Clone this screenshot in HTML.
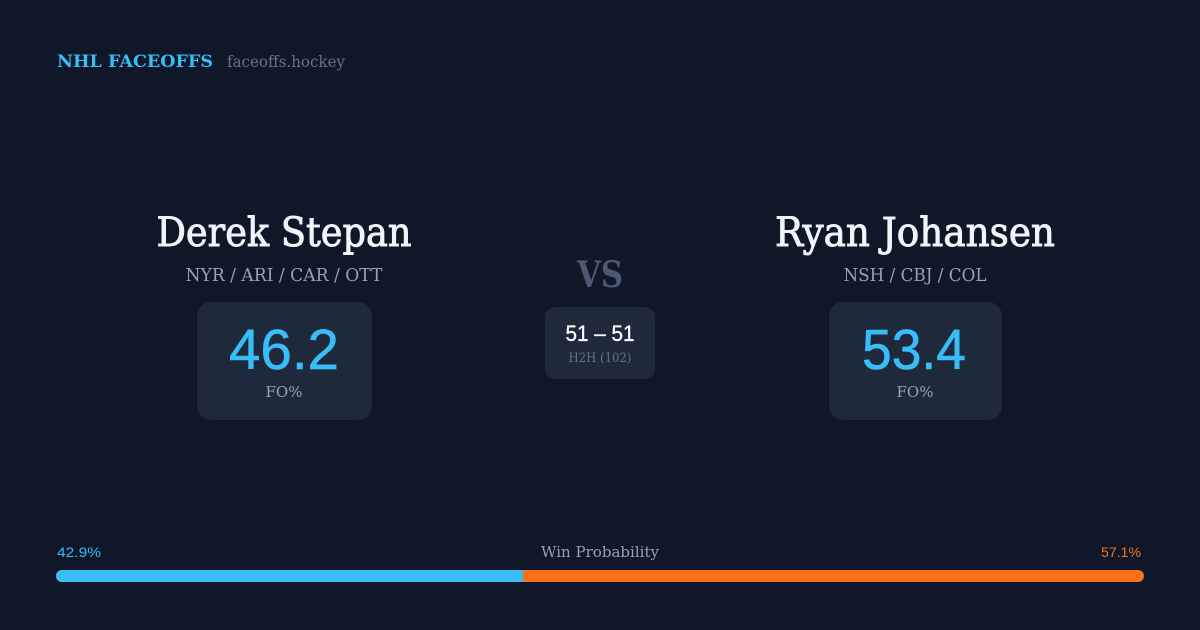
<!DOCTYPE html>
<html><head><meta charset="utf-8"><style>
html,body{margin:0;padding:0;background:#0f1729;}
svg{display:block}
</style></head><body>
<svg width="1200" height="630" viewBox="0 0 1200 630" xmlns="http://www.w3.org/2000/svg">
<rect width="1200" height="630" fill="#0f1729"/>
<g font-family="'DejaVu Serif','Liberation Serif',serif">
<text x="57" y="67" font-size="17" font-weight="bold" fill="#38bdf8" font-family="DejaVu Serif" textLength="156" lengthAdjust="spacingAndGlyphs">NHL FACEOFFS</text>
<text x="227" y="67" font-size="16" fill="#64748b" textLength="118" lengthAdjust="spacingAndGlyphs">faceoffs.hockey</text>

<text x="284" y="246" font-size="40" fill="#f1f5f9" stroke="#f1f5f9" stroke-width="0.9" text-anchor="middle" textLength="255" lengthAdjust="spacingAndGlyphs">Derek Stepan</text>
<text x="284" y="281" font-size="18" fill="#94a3b8" text-anchor="middle" textLength="197" lengthAdjust="spacingAndGlyphs">NYR / ARI / CAR / OTT</text>

<text x="915" y="246" font-size="40" fill="#f1f5f9" stroke="#f1f5f9" stroke-width="0.9" text-anchor="middle" textLength="280" lengthAdjust="spacingAndGlyphs">Ryan Johansen</text>
<text x="915" y="281" font-size="18" fill="#94a3b8" text-anchor="middle" textLength="143" lengthAdjust="spacingAndGlyphs">NSH / CBJ / COL</text>

<text x="600" y="287" font-size="36" font-weight="bold" fill="#4b5a72" font-family="DejaVu Serif" text-anchor="middle" textLength="46" lengthAdjust="spacingAndGlyphs">VS</text>

<rect x="197" y="302" width="175" height="118" rx="14" fill="#1e293b"/>
<rect x="829" y="302" width="173" height="118" rx="14" fill="#1e293b"/>
<rect x="545" y="307" width="110" height="72" rx="10" fill="#1e293b"/>

<text x="284" y="397" font-size="15" fill="#94a3b8" text-anchor="middle">FO%</text>
<text x="915" y="397" font-size="15" fill="#94a3b8" text-anchor="middle">FO%</text>
<text x="600" y="362" font-size="13" fill="#64748b" text-anchor="middle" textLength="63" lengthAdjust="spacingAndGlyphs">H2H (102)</text>
<text x="600" y="557" font-size="15" fill="#94a3b8" text-anchor="middle" textLength="118" lengthAdjust="spacingAndGlyphs">Win Probability</text>
</g>
<g font-family="'Liberation Sans',Arial,sans-serif">
<text x="284" y="369" font-size="57" fill="#38bdf8" stroke="#38bdf8" stroke-width="0.6" text-anchor="middle" textLength="110" lengthAdjust="spacingAndGlyphs">46.2</text>
<text x="914" y="369" font-size="57" fill="#38bdf8" stroke="#38bdf8" stroke-width="0.6" text-anchor="middle" textLength="104" lengthAdjust="spacingAndGlyphs">53.4</text>
<text x="600" y="341" font-size="22" fill="#ffffff" stroke="#ffffff" stroke-width="0.3" text-anchor="middle" textLength="69" lengthAdjust="spacingAndGlyphs">51 – 51</text>
<text x="57" y="557" font-size="14" fill="#38bdf8" textLength="44" lengthAdjust="spacingAndGlyphs">42.9%</text>
<text x="1141" y="557" font-size="14" fill="#f97316" text-anchor="end" textLength="40" lengthAdjust="spacingAndGlyphs">57.1%</text>
</g>
<clipPath id="bar"><rect x="56" y="570" width="1088" height="12" rx="6"/></clipPath>
<g clip-path="url(#bar)">
<rect x="56" y="570" width="1088" height="12" fill="#f97316"/>
<rect x="56" y="570" width="467" height="12" fill="#38bdf8"/>
</g>
</svg>
</body></html>
